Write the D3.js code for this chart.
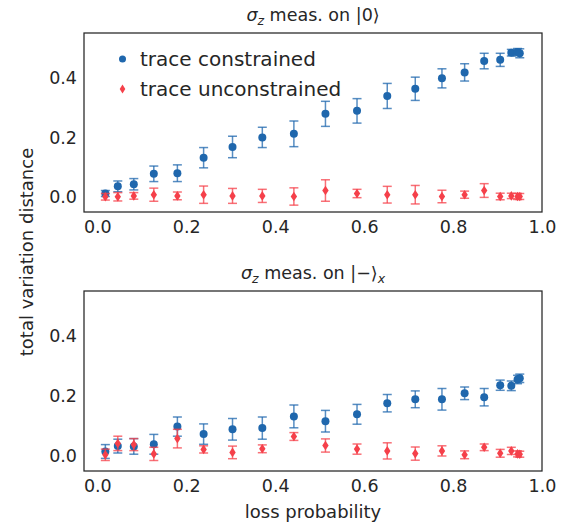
<!DOCTYPE html>
<html>
<head>
<meta charset="utf-8">
<script src="https://cdn.jsdelivr.net/npm/d3@7/dist/d3.min.js"></script>
<style>
  html, body { margin: 0; padding: 0; background: #fff; }
  svg { display: block; font-family: "DejaVu Sans", sans-serif; }
</style>
</head>
<body>
<svg id="chart" width="579" height="527"></svg>
<script>
// Loss probabilities shared by every series
const lossProb = [0.018, 0.046, 0.082, 0.127, 0.180, 0.239, 0.304, 0.371, 0.442, 0.513,
                  0.584, 0.652, 0.715, 0.775, 0.826, 0.870, 0.906, 0.931, 0.945, 0.950];

// Panel 1: sigma_z measured on |0>
const topConstrained      = [0.012, 0.036, 0.043, 0.078, 0.080, 0.132, 0.168, 0.200, 0.212, 0.279,
                             0.289, 0.339, 0.363, 0.398, 0.418, 0.456, 0.460, 0.484, 0.486, 0.482];
const topConstrainedErr   = [0.010, 0.018, 0.019, 0.026, 0.028, 0.034, 0.036, 0.034, 0.043, 0.042,
                             0.041, 0.042, 0.039, 0.032, 0.029, 0.026, 0.022, 0.011, 0.012, 0.015];
const topUnconstrained    = [0.001, 0.001, 0.004, 0.008, 0.004, 0.008, 0.004, 0.004, 0.002, 0.022,
                             0.012, 0.008, 0.008, 0.002, 0.008, 0.022, 0.002, 0.004, 0.002, 0.002];
const topUnconstrainedErr = [0.011, 0.014, 0.011, 0.022, 0.013, 0.029, 0.025, 0.022, 0.029, 0.036,
                             0.014, 0.028, 0.031, 0.021, 0.012, 0.023, 0.011, 0.009, 0.010, 0.010];

// Panel 2: sigma_z measured on |->_x
const bottomConstrained      = [0.015, 0.033, 0.032, 0.039, 0.098, 0.073, 0.089, 0.093, 0.132, 0.116,
                                0.139, 0.176, 0.189, 0.189, 0.209, 0.196, 0.236, 0.234, 0.255, 0.259];
const bottomConstrainedErr   = [0.023, 0.023, 0.026, 0.033, 0.032, 0.034, 0.036, 0.037, 0.038, 0.036,
                                0.033, 0.029, 0.028, 0.036, 0.021, 0.029, 0.017, 0.016, 0.014, 0.014];
const bottomUnconstrained    = [0.004, 0.042, 0.038, 0.007, 0.058, 0.022, 0.012, 0.024, 0.065, 0.035,
                                0.023, 0.017, 0.008, 0.017, 0.004, 0.029, 0.009, 0.017, 0.007, 0.006];
const bottomUnconstrainedErr = [0.019, 0.024, 0.020, 0.022, 0.031, 0.012, 0.021, 0.013, 0.013, 0.022,
                                0.017, 0.027, 0.022, 0.017, 0.013, 0.011, 0.013, 0.012, 0.010, 0.010];

// Axis ticks and labels
const xTicks = [0.0, 0.2, 0.4, 0.6, 0.8, 1.0];
const yTicks = [0.0, 0.2, 0.4];
const seriesNames = ["trace constrained", "trace unconstrained"];
const xLabel = "loss probability";
const yLabel = "total variation distance";

const BLUE = "#1f67ad";
const RED = "#f5404a";
const INK = "#262626";

const svg = d3.select("#chart");
const left = 84, right = 542;

const x = d3.scaleLinear().domain([-0.03, 1.0]).range([left, right]);

const panels = [
  { top: 33, bottom: 212, title: "top",
    series: [
      { v: topConstrained, e: topConstrainedErr, color: BLUE, shape: "circle" },
      { v: topUnconstrained, e: topUnconstrainedErr, color: RED, shape: "diamond" }
    ], legend: true },
  { top: 291, bottom: 471, title: "bottom",
    series: [
      { v: bottomConstrained, e: bottomConstrainedErr, color: BLUE, shape: "circle" },
      { v: bottomUnconstrained, e: bottomUnconstrainedErr, color: RED, shape: "diamond" }
    ], legend: false }
];

const diamond = (cx, cy, w, h) =>
  `M${cx},${cy - h}L${cx + w},${cy}L${cx},${cy + h}L${cx - w},${cy}Z`;

function drawMarker(g, shape, cx, cy, color) {
  if (shape === "circle") {
    g.append("circle").attr("cx", cx).attr("cy", cy).attr("r", 4).attr("fill", color);
  } else {
    g.append("path").attr("d", diamond(cx, cy, 3.2, 4.8)).attr("fill", color);
  }
}

panels.forEach((p, pi) => {
  const y = d3.scaleLinear().domain([-0.05, 0.55]).range([p.bottom, p.top]);
  const g = svg.append("g");

  // y tick labels
  const yAxis = g.append("g").attr("transform", `translate(${left},0)`)
    .call(d3.axisLeft(y).tickValues(yTicks).tickSize(0).tickPadding(7).tickFormat(d3.format(".1f")));
  yAxis.select(".domain").remove();
  yAxis.selectAll("text").attr("font-size", 17.5).attr("fill", INK)
    .attr("font-family", "DejaVu Sans");

  // x tick labels
  const xAxis = g.append("g").attr("transform", `translate(0,${p.bottom})`)
    .call(d3.axisBottom(x).tickValues(xTicks).tickSize(0).tickPadding(9).tickFormat(d3.format(".1f")));
  xAxis.select(".domain").remove();
  xAxis.selectAll("text").attr("font-size", 17.5).attr("fill", INK)
    .attr("font-family", "DejaVu Sans");

  // error bars then markers, constrained series drawn first
  p.series.forEach(s => {
    const sg = g.append("g");
    lossProb.forEach((lp, i) => {
      const cx = x(lp), y0 = y(s.v[i] - s.e[i]), y1 = y(s.v[i] + s.e[i]);
      const eb = sg.append("g").attr("stroke", s.color).attr("stroke-width", 1.5)
        .attr("stroke-opacity", 0.75);
      eb.append("line").attr("x1", cx).attr("x2", cx).attr("y1", y0).attr("y2", y1);
      eb.append("line").attr("x1", cx - 4.5).attr("x2", cx + 4.5).attr("y1", y0).attr("y2", y0);
      eb.append("line").attr("x1", cx - 4.5).attr("x2", cx + 4.5).attr("y1", y1).attr("y2", y1);
    });
    lossProb.forEach((lp, i) => drawMarker(sg, s.shape, x(lp), y(s.v[i]), s.color));
  });

  // frame
  g.append("rect").attr("x", left).attr("y", p.top)
    .attr("width", right - left).attr("height", p.bottom - p.top)
    .attr("fill", "none").attr("stroke", INK).attr("stroke-width", 1.25);

  // title with math-style sigma_z and ket
  const title = g.append("text").attr("x", (left + right) / 2).attr("y", p.top - 12)
    .attr("text-anchor", "middle").attr("font-size", 17.5).attr("fill", INK);
  title.append("tspan").attr("font-style", "italic").text("σ");
  title.append("tspan").attr("font-style", "italic").attr("font-size", 12.5).attr("dy", 4).text("z");
  title.append("tspan").attr("dy", -4).text(" meas. on ");
  if (pi === 0) {
    title.append("tspan").text("|0⟩");
  } else {
    title.append("tspan").text("|−⟩");
    title.append("tspan").attr("font-style", "italic").attr("font-size", 12.5).attr("dy", 4).text("x");
  }

  // legend
  if (p.legend) {
    const lg = g.append("g");
    const colors = [BLUE, RED], shapes = ["circle", "diamond"];
    seriesNames.forEach((name, i) => {
      const ly = 59 + i * 30;
      if (shapes[i] === "circle") {
        lg.append("circle").attr("cx", 122.5).attr("cy", ly).attr("r", 3.5).attr("fill", colors[i]);
      } else {
        lg.append("path").attr("d", diamond(122.5, ly, 2.8, 4.4)).attr("fill", colors[i]);
      }
      lg.append("text").attr("x", 140).attr("y", ly).attr("dy", "0.35em")
        .attr("font-size", 20).attr("fill", INK).text(name);
    });
  }
});

// shared axis labels
svg.append("text").attr("x", (left + right) / 2).attr("y", 518)
  .attr("text-anchor", "middle").attr("font-size", 18).attr("fill", INK).text(xLabel);
svg.append("text").attr("transform", "translate(33,252) rotate(-90)")
  .attr("text-anchor", "middle").attr("font-size", 18).attr("fill", INK).text(yLabel);
</script>
</body>
</html>
